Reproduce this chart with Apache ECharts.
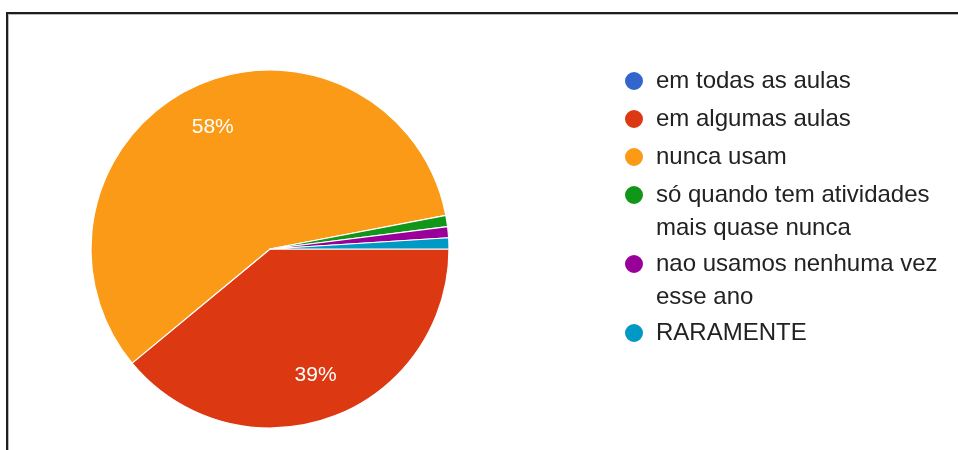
<!DOCTYPE html>
<html>
<head>
<meta charset="utf-8">
<script src="https://cdn.jsdelivr.net/npm/echarts@6/dist/echarts.min.js"></script>
<style>
html,body{margin:0;padding:0;background:#fff;overflow:hidden}
#wrap{position:relative;width:958px;height:450px;overflow:hidden;background:#fff}
#frame{position:absolute;left:6px;top:12px;width:1000px;height:1000px;border-left:2px solid #1e1e1e;border-top:2px solid #1e1e1e;box-shadow:inset 1px 1px 0 #b8b8b8}
#chart{position:absolute;left:0;top:0;width:958px;height:450px}
</style>
</head>
<body>
<div id="wrap"><div id="frame"></div><div id="chart"></div></div>
<script>
const categories = [
  'em todas as aulas',
  'em algumas aulas',
  'nunca usam',
  'só quando tem atividades mais quase nunca',
  'nao usamos nenhuma vez esse ano',
  'RARAMENTE'
];
const legendLabels = [
  'em todas as aulas',
  'em algumas aulas',
  'nunca usam',
  'só quando tem atividades\nmais quase nunca',
  'nao usamos nenhuma vez\nesse ano',
  'RARAMENTE'
];
const values = [0, 39, 58, 1, 1, 1];
const colors = ['#3366cc', '#dc3912', '#fa9a17', '#109618', '#990099', '#0099c6'];

const FONT = '"Liberation Sans", Arial, sans-serif';
const LINE_H = 32;

const pieData = categories.map((c, i) => ({ name: c, value: values[i], itemStyle: { color: colors[i] } }));
const labelData = categories.map((c, i) => ({ name: c, value: values[i] }));

const legendData = categories.map((c) => ({ name: c, icon: 'circle' }));

function legendFormatter(name) {
  const lines = legendLabels[categories.indexOf(name)].split('\n');
  return lines.map((l, k) => (k === 0 ? '{a|' : '{b|') + l + '}').join('\n');
}

const chart = echarts.init(document.getElementById('chart'), null, { renderer: 'canvas' });
chart.setOption({
  backgroundColor: 'transparent',
  animation: false,
  color: colors,
  legend: {
    orient: 'vertical',
    left: 618,
    top: 60,
    itemWidth: 34,
    itemHeight: 20,
    itemGap: 6,
    selectedMode: false,
    data: legendData,
    formatter: legendFormatter,
    textStyle: {
      fontFamily: FONT, fontSize: 24, color: '#222', lineHeight: LINE_H,
      rich: {
        a: { fontFamily: FONT, fontSize: 24, color: '#222', lineHeight: LINE_H },
        b: {
          fontFamily: FONT, fontSize: 24, color: '#222',
          lineHeight: 0, height: 28, padding: [3, 0, 0, 0],
          verticalAlign: 'top', backgroundColor: 'rgba(255,255,255,0)'
        }
      }
    }
  },
  series: [
    {
      type: 'pie',
      center: [270, 249],
      radius: [0, 179],
      startAngle: 0,
      clockwise: true,
      label: { show: false },
      labelLine: { show: false },
      emphasis: { disabled: true },
      itemStyle: { borderColor: '#fff', borderWidth: 1.2 },
      data: pieData
    },
    {
      type: 'pie',
      center: [270, 249],
      radius: [84, 179],
      startAngle: 0,
      clockwise: true,
      silent: true,
      legendHoverLink: false,
      emphasis: { disabled: true },
      itemStyle: { color: 'rgba(0,0,0,0)', borderWidth: 0 },
      labelLine: { show: false },
      label: {
        show: true,
        position: 'inside',
        color: '#fff',
        textBorderWidth: 0,
        fontFamily: FONT,
        fontSize: 21,
        formatter: function (p) { return p.percent < 5 ? '' : Math.round(p.percent) + '%'; }
      },
      data: labelData
    }
  ]
});
</script>
</body>
</html>
